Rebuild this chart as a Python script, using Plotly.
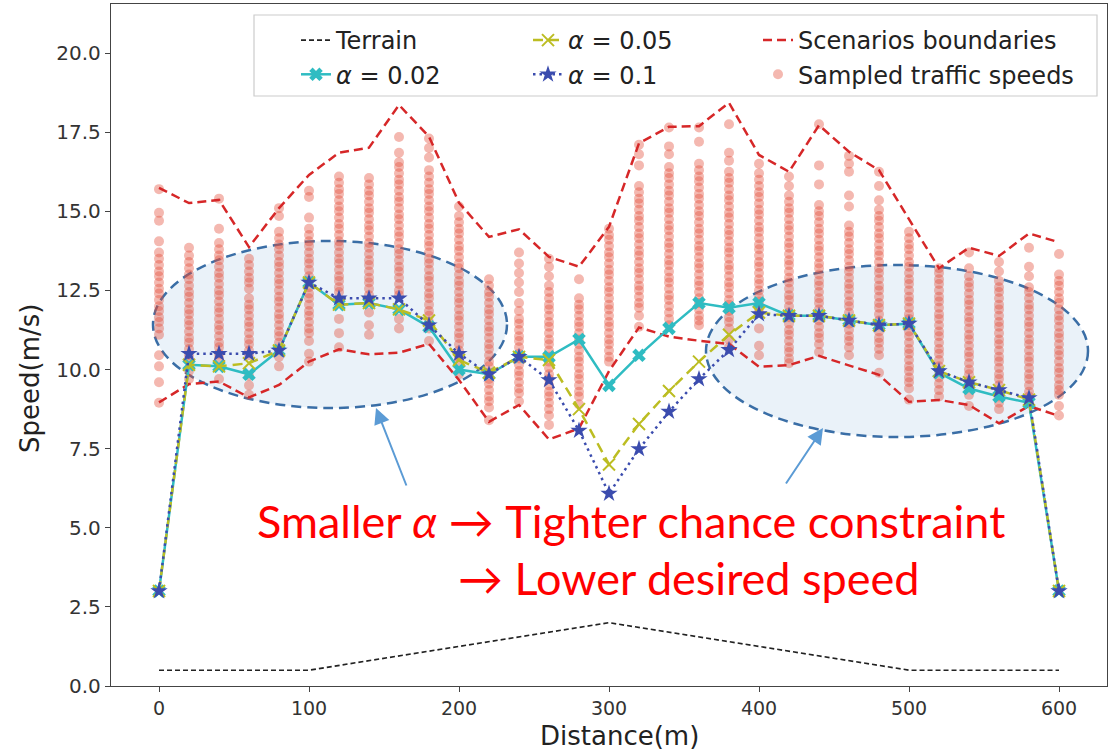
import plotly.graph_objects as go

# Road positions (m) where speeds are evaluated
distance = [0, 20, 40, 60, 80, 100, 120, 140, 160, 180, 200, 220, 240, 260, 280, 300,
            320, 340, 360, 380, 400, 420, 440, 460, 480, 500, 520, 540, 560, 580, 600]

# Desired speed profiles for each risk level alpha
speed_a002 = [3.0, 10.15, 10.1, 9.85, 10.6, 12.75, 12.05, 12.1, 11.9, 11.35, 10.0, 9.85, 10.4, 10.4, 10.95, 9.5,
              10.45, 11.3, 12.1, 11.95, 12.1, 11.7, 11.7, 11.55, 11.4, 11.45, 9.9, 9.4, 9.15, 8.95, 3.0]
speed_a005 = [3.0, 10.15, 10.1, 10.2, 10.6, 12.75, 12.05, 12.1, 11.9, 11.55, 10.3, 9.9, 10.4, 10.3, 8.75, 7.0,
              8.28, 9.32, 10.25, 11.1, 11.8, 11.7, 11.7, 11.55, 11.4, 11.45, 9.95, 9.6, 9.35, 9.05, 3.0]
speed_a010 = [3.0, 10.5, 10.5, 10.5, 10.6, 12.75, 12.25, 12.25, 12.25, 11.4, 10.5, 9.85, 10.4, 9.67, 8.07, 6.08,
              7.49, 8.67, 9.7, 10.62, 11.75, 11.7, 11.7, 11.55, 11.4, 11.45, 9.95, 9.6, 9.35, 9.1, 3.0]

# Upper and lower envelopes of the traffic scenarios
upper_bound = [15.74, 15.26, 15.36, 13.87, 15.1, 16.15, 16.85, 17.01, 18.36, 17.36, 15.27, 14.19, 14.43, 13.56,
               13.25, 14.51, 17.15, 17.67, 17.69, 18.43, 16.78, 16.25, 17.72, 16.88, 16.3, 14.75, 13.2, 13.85,
               13.59, 14.3, 14.02]
lower_bound = [8.96, 9.54, 9.62, 9.12, 9.51, 10.25, 10.64, 10.48, 10.53, 10.81, 9.67, 8.35, 8.88, 7.79, 8.14,
               9.95, 11.33, 11.04, 10.91, 10.81, 10.09, 10.14, 10.43, 10.14, 9.83, 8.98, 9.04, 8.88, 8.3, 8.85,
               8.53]

# Road elevation profile
terrain_x = [0, 100, 300, 500, 600]
terrain_y = [0.5, 0.5, 2.0, 0.5, 0.5]

# Sampled traffic speeds at each road position
s000 = [15.7, 14.95, 14.7, 14.05, 13.7, 13.5, 13.3, 13.1, 12.95, 12.75, 12.55, 12.4, 12.2, 12.0, 11.85, 11.65,
        11.5, 11.3, 11.1, 10.45, 10.1, 9.6, 8.95]
s020 = [13.85, 13.6, 13.4, 13.2, 13.0, 12.85, 12.65, 12.45, 12.3, 12.1, 11.9, 11.75, 11.55, 11.4, 11.2, 11.0,
        10.85, 10.65, 10.45, 10.3, 9.95, 9.7]
s040 = [15.4, 14.45, 14.0, 13.8, 13.6, 13.45, 13.25, 13.05, 12.9, 12.7, 12.5, 12.35, 12.15, 11.95, 11.8, 11.6,
        11.4, 11.25, 11.05, 10.85, 10.7, 10.5, 10.35, 9.7]
s060 = [13.5, 13.3, 13.1, 12.9, 12.75, 12.55, 12.25, 12.05, 11.9, 11.7, 11.5, 11.35, 11.15, 10.95, 10.8, 10.6,
        10.45, 9.8, 9.5, 9.2]
s080 = [15.1, 14.85, 14.35, 14.15, 13.95, 13.8, 13.6, 13.4, 13.25, 13.05, 12.85, 12.7, 12.5, 12.3, 12.15, 11.95,
        11.75, 11.6, 11.4, 11.2, 11.05, 10.85, 10.65, 10.4, 10.1]
s100 = [15.65, 15.45, 14.8, 14.45, 14.25, 14.05, 13.9, 13.7, 13.5, 13.35, 13.15, 12.95, 12.8, 12.6, 12.4, 12.25,
        12.05, 11.85, 11.7, 11.5, 11.3, 11.15, 10.9, 10.5, 10.25]
s120 = [16.1, 15.9, 15.7, 15.55, 15.35, 15.15, 15.0, 14.8, 14.6, 14.45, 14.25, 14.05, 13.9, 13.7, 13.5, 13.35,
        13.15, 12.95, 12.8, 12.6, 12.45, 11.6, 11.15, 10.7]
s140 = [16.05, 15.85, 15.65, 15.5, 15.3, 15.1, 14.95, 14.75, 14.55, 14.4, 14.2, 14.0, 13.85, 13.65, 13.45, 13.3,
        13.1, 12.9, 12.75, 12.55, 12.35, 11.8, 11.4, 11.1]
s160 = [17.35, 16.85, 16.55, 16.4, 16.2, 16.0, 15.85, 15.65, 15.45, 15.3, 15.1, 14.9, 14.75, 14.55, 14.35, 14.2,
        14.0, 13.8, 13.65, 13.45, 13.25, 13.1, 12.9, 12.7, 12.5, 12.35, 11.6, 11.3]
s180 = [17.3, 17.0, 16.7, 16.3, 16.1, 15.9, 15.7, 15.55, 15.35, 15.15, 15.0, 14.8, 14.6, 14.45, 14.25, 14.05,
        13.9, 13.7, 13.5, 13.35, 13.15, 12.95, 12.8, 12.6, 12.4, 12.25, 12.05, 11.85, 11.7, 11.5, 11.3, 10.9]
s200 = [15.15, 14.85, 14.65, 14.45, 14.3, 14.1, 13.9, 13.75, 13.55, 13.35, 13.2, 13.0, 12.8, 12.65, 12.45, 12.25,
        12.1, 11.9, 11.7, 11.55, 11.35, 11.15, 11.0, 10.8, 10.6, 10.4, 10.25, 9.85]
s220 = [12.85, 12.65, 12.45, 12.3, 12.1, 11.9, 11.75, 11.55, 11.35, 11.2, 11.0, 10.8, 10.65, 10.45, 10.25, 10.1,
        9.9, 9.7, 9.55, 9.35, 9.15, 9.0, 8.8, 8.4]
s240 = [13.7, 13.35, 13.05, 12.75, 12.45, 12.1, 11.85, 11.6, 11.45, 11.25, 11.05, 10.9, 10.7, 10.5, 10.35, 10.15,
        9.95, 9.8, 9.6, 9.4, 9.25, 9.0]
s260 = [13.5, 13.25, 12.95, 12.65, 12.45, 12.25, 12.05, 11.9, 11.7, 11.5, 11.35, 11.15, 10.95, 10.8, 10.6, 10.4,
        10.25, 10.05, 9.85, 9.7, 9.5, 9.3, 9.15, 8.95, 8.75, 8.55, 8.25]
s280 = [12.85, 12.25, 12.05, 11.9, 11.7, 11.5, 11.35, 11.15, 10.95, 10.8, 10.6, 10.4, 10.25, 10.05, 9.85, 9.7,
        9.5, 9.3, 9.15, 8.9]
s300 = [14.45, 14.25, 14.1, 13.9, 13.7, 13.55, 13.35, 13.15, 13.0, 12.8, 12.6, 12.45, 12.25, 12.05, 11.9, 11.7,
        11.5, 11.35, 11.15, 10.95, 10.8, 10.6, 10.4, 10.25]
s320 = [17.1, 16.8, 16.45, 15.8, 15.6, 15.4, 15.25, 15.05, 14.85, 14.7, 14.5, 14.3, 14.15, 13.95, 13.75, 13.6,
        13.4, 13.2, 13.05, 12.85, 12.65, 12.5, 12.3, 12.1, 11.95, 11.7, 11.35]
s340 = [17.65, 17.05, 16.8, 16.4, 16.2, 16.05, 15.85, 15.65, 15.5, 15.3, 15.1, 14.95, 14.75, 14.55, 14.4, 14.2,
        14.0, 13.85, 13.65, 13.45, 13.3, 13.1, 12.9, 12.75, 12.55, 12.35, 12.2, 12.0, 11.8, 11.6, 11.4]
s360 = [17.65, 17.2, 16.5, 16.3, 16.1, 15.95, 15.75, 15.55, 15.4, 15.2, 15.0, 14.85, 14.65, 14.45, 14.3, 14.1,
        13.9, 13.75, 13.55, 13.35, 13.2, 13.0, 12.8, 12.65, 12.45, 12.25, 12.1, 11.9, 11.7, 11.55, 11.4]
s380 = [17.75, 16.85, 16.6, 16.25, 16.05, 15.9, 15.7, 15.5, 15.35, 15.15, 14.95, 14.8, 14.6, 14.4, 14.25, 14.05,
        13.85, 13.7, 13.5, 13.3, 13.15, 12.95, 12.75, 12.6, 12.4, 12.2, 12.05, 11.85, 11.65, 11.5, 11.3, 10.95,
        10.7]
s400 = [16.5, 16.2, 16.0, 15.8, 15.6, 15.45, 15.25, 15.05, 14.9, 14.7, 14.5, 14.35, 14.15, 13.95, 13.8, 13.6,
        13.4, 13.25, 13.05, 12.85, 12.7, 12.5, 12.3, 12.15, 11.95, 11.8, 11.3, 10.75, 10.45]
s420 = [16.1, 15.8, 15.5, 15.3, 15.1, 14.95, 14.75, 14.55, 14.4, 14.2, 14.0, 13.85, 13.65, 13.45, 13.3, 13.1,
        12.9, 12.75, 12.55, 12.35, 12.2, 12.0, 11.8, 11.65, 11.45, 11.25, 11.1, 10.9, 10.7, 10.55, 10.35, 10.2]
s440 = [17.75, 16.45, 15.85, 15.2, 15.0, 14.85, 14.65, 14.45, 14.3, 14.1, 13.9, 13.75, 13.55, 13.35, 13.2, 13.0,
        12.8, 12.65, 12.45, 12.25, 12.1, 11.9, 11.7, 11.55, 11.35, 11.15, 11.0, 10.8, 10.55]
s460 = [16.75, 16.5, 16.25, 15.5, 15.15, 14.55, 14.35, 14.2, 14.0, 13.8, 13.65, 13.45, 13.25, 13.1, 12.9, 12.7,
        12.55, 12.35, 12.15, 12.0, 11.8, 11.6, 11.45, 11.25, 11.05, 10.9, 10.7, 10.45]
s480 = [16.25, 15.8, 15.35, 15.05, 14.85, 14.7, 14.5, 14.3, 14.15, 13.95, 13.75, 13.6, 13.4, 13.2, 13.05, 12.85,
        12.65, 12.5, 12.3, 12.1, 11.95, 11.75, 11.55, 11.4, 11.2, 11.0, 10.85, 10.65, 10.45, 9.9]
s500 = [14.35, 14.15, 13.95, 13.8, 13.6, 13.4, 13.25, 13.05, 12.85, 12.7, 12.5, 12.3, 12.15, 11.95, 11.75, 11.6,
        11.4, 11.2, 11.05, 10.85, 10.65, 10.5, 10.3, 10.1, 9.95, 9.75, 9.6, 9.4, 9.05]
s520 = [13.2, 13.05, 12.85, 12.7, 12.5, 12.3, 12.15, 11.95, 11.75, 11.6, 11.4, 11.2, 11.05, 10.85, 10.65, 10.5,
        10.3, 10.1, 9.95, 9.75, 9.55, 9.35, 9.15]
s540 = [13.7, 13.2, 12.95, 12.75, 12.6, 12.4, 12.2, 12.05, 11.85, 11.65, 11.5, 11.3, 11.1, 10.95, 10.75, 10.55,
        10.4, 10.2, 10.0, 9.85, 9.65, 9.45, 9.2, 8.85]
s560 = [13.4, 13.1, 12.8, 12.6, 12.45, 12.25, 12.05, 11.9, 11.7, 11.5, 11.35, 11.15, 10.95, 10.8, 10.6, 10.4,
        10.25, 10.05, 9.85, 9.7, 9.5, 9.3, 9.15, 8.95, 8.75]
s580 = [13.85, 13.25, 12.95, 12.6, 12.45, 12.25, 12.05, 11.9, 11.7, 11.5, 11.35, 11.15, 10.95, 10.8, 10.6, 10.4,
        10.25, 10.05, 9.85, 9.7, 9.5, 9.3, 9.15, 8.95]
s600 = [13.65, 13.0, 12.8, 12.65, 12.45, 12.25, 12.1, 11.9, 11.7, 11.55, 11.35, 11.15, 11.0, 10.8, 10.6, 10.45,
        10.25, 10.05, 9.9, 9.7, 9.5, 9.35, 9.2, 8.85, 8.55]

sample_columns = [s000, s020, s040, s060, s080, s100, s120, s140, s160, s180, s200, s220, s240, s260, s280,
                  s300, s320, s340, s360, s380, s400, s420, s440, s460, s480, s500, s520, s540, s560, s580,
                  s600]

x_ticks = [0, 100, 200, 300, 400, 500, 600]
y_ticks = [0.0, 2.5, 5.0, 7.5, 10.0, 12.5, 15.0, 17.5, 20.0]

# ---------------------------------------------------------------------------
W, H = 1113, 752
M_L, M_R, M_T, M_B = 111, 6, 4, 66
X_RANGE = [-32, 632]
Y_RANGE = [0, 21.55]


def px_x(p):
    return (p - M_L) / (W - M_L - M_R)


def px_y(p):
    return (H - M_B - p) / (H - M_B - M_T)


def data_x(p):
    return X_RANGE[0] + (p - M_L) / (W - M_L - M_R) * (X_RANGE[1] - X_RANGE[0])


def data_y(p):
    return Y_RANGE[0] + (H - M_B - p) / (H - M_B - M_T) * (Y_RANGE[1] - Y_RANGE[0])


sample_x, sample_y = [], []
for d, col in zip(distance, sample_columns):
    sample_x.extend([d] * len(col))
    sample_y.extend(col)

CYAN = "#2fbcc2"
OLIVE = "#bcbd22"
NAVY = "#3b4cae"
RED = "#d62728"

fig = go.Figure()

fig.add_trace(go.Scatter(
    x=sample_x, y=sample_y, mode="markers", name="Sampled traffic speeds",
    marker=dict(size=10, color="rgba(228, 78, 58, 0.40)", line=dict(width=0)),
    legend="legend3", legendrank=2))

fig.add_trace(go.Scatter(
    x=distance, y=upper_bound, mode="lines", name="Scenarios boundaries",
    line=dict(color=RED, width=2.5, dash="9px,5px"),
    legend="legend3", legendrank=1))
fig.add_trace(go.Scatter(
    x=distance, y=lower_bound, mode="lines", showlegend=False,
    line=dict(color=RED, width=2.5, dash="9px,5px")))

fig.add_trace(go.Scatter(
    x=terrain_x, y=terrain_y, mode="lines", name="Terrain",
    line=dict(color="#222222", width=1.6, dash="5px,3px"),
    legend="legend", legendrank=1))

fig.add_trace(go.Scatter(
    x=distance, y=speed_a002, mode="lines+markers", name="<i>α</i> = 0.02",
    line=dict(color=CYAN, width=2.5),
    marker=dict(symbol="x", size=12, color=CYAN, line=dict(width=0)),
    legend="legend", legendrank=2))

fig.add_trace(go.Scatter(
    x=distance, y=speed_a005, mode="lines+markers", name="<i>α</i> = 0.05",
    line=dict(color=OLIVE, width=2.5, dash="10px,6px"),
    marker=dict(symbol="x-thin", size=12, color=OLIVE, line=dict(width=2, color=OLIVE)),
    legend="legend2", legendrank=1))

fig.add_trace(go.Scatter(
    x=distance, y=speed_a010, mode="lines+markers", name="<i>α</i> = 0.1",
    line=dict(color=NAVY, width=2.5, dash="2.5px,4px"),
    marker=dict(symbol="star", size=13, color=NAVY, line=dict(width=0)),
    legend="legend2", legendrank=2))

legend_font = dict(family="DejaVu Sans", size=24, color="#222222")
legend_common = dict(font=legend_font, bgcolor="rgba(0,0,0,0)", borderwidth=0,
                     yanchor="top", xanchor="left", tracegroupgap=4, orientation="v")

shapes = [
    # highlighted regions
    dict(type="circle", xref="x", yref="y", x0=data_x(153), x1=data_x(507), y0=data_y(408), y1=data_y(241),
         layer="below", fillcolor="rgba(205, 224, 241, 0.42)",
         line=dict(color="#3a6ea6", width=2.5, dash="10px,6px")),
    dict(type="circle", xref="x", yref="y", x0=data_x(706), x1=data_x(1088), y0=data_y(437), y1=data_y(265),
         layer="below", fillcolor="rgba(205, 224, 241, 0.42)",
         line=dict(color="#3a6ea6", width=2.5, dash="10px,6px")),
    # legend frame
    dict(type="rect", xref="paper", yref="paper", x0=px_x(254), x1=px_x(1097), y0=px_y(96), y1=px_y(15),
         layer="above", fillcolor="rgba(255,255,255,0.8)", line=dict(color="#cccccc", width=1.2)),
]

annotations = [
    dict(x=data_x(376), y=data_y(408), xref="x", yref="y", ax=31, ay=79, text="", showarrow=True,
         arrowhead=2, arrowsize=1.6, arrowwidth=2, arrowcolor="#5b9bd5"),
    dict(x=data_x(823), y=data_y(428), xref="x", yref="y", ax=-38, ay=57, text="",
         showarrow=True, arrowhead=2, arrowsize=1.6, arrowwidth=2, arrowcolor="#5b9bd5"),
    dict(x=px_x(631), y=px_y(521), xref="paper", yref="paper", showarrow=False,
         text="Smaller <i>α</i> → Tighter chance constraint",
         font=dict(family="Lato", size=45, color="#ff0000"), xanchor="center", yanchor="middle"),
    dict(x=px_x(689), y=px_y(578), xref="paper", yref="paper", showarrow=False,
         text="→ Lower desired speed",
         font=dict(family="Lato", size=45, color="#ff0000"), xanchor="center", yanchor="middle"),
    # axis titles
    dict(x=px_x(30), y=px_y(379), xref="paper", yref="paper", showarrow=False, textangle=-90,
         text="Speed(m/s)", font=dict(family="DejaVu Sans", size=26, color="#222222"),
         xanchor="center", yanchor="middle"),
    dict(x=px_x(619), y=px_y(736), xref="paper", yref="paper", showarrow=False,
         text="Distance(m)", font=dict(family="DejaVu Sans", size=26, color="#222222"),
         xanchor="center", yanchor="middle"),
]

fig.update_layout(
    width=W, height=H,
    margin=dict(l=M_L, r=M_R, t=M_T, b=M_B),
    paper_bgcolor="white", plot_bgcolor="white",
    showlegend=True,
    legend=dict(x=px_x(296), y=px_y(18), **legend_common),
    legend2=dict(x=px_x(528), y=px_y(18), **legend_common),
    legend3=dict(x=px_x(758), y=px_y(18), **legend_common),
    shapes=shapes,
    annotations=annotations,
    xaxis=dict(range=X_RANGE, tickvals=x_ticks, ticktext=[str(v) for v in x_ticks],
               showgrid=False, zeroline=False, showline=True, mirror=True, linecolor="#444444",
               linewidth=1.3, ticks="outside", ticklen=5, tickcolor="#444444",
               tickfont=dict(family="DejaVu Sans", size=19, color="#333333")),
    yaxis=dict(range=Y_RANGE, tickvals=y_ticks, ticktext=[f"{v:.1f}" for v in y_ticks],
               showgrid=False, zeroline=False, showline=True, mirror=True, linecolor="#444444",
               linewidth=1.3, ticks="outside", ticklen=5, tickcolor="#444444",
               tickfont=dict(family="DejaVu Sans", size=20, color="#333333")),
)

fig.write_html("out.html")
